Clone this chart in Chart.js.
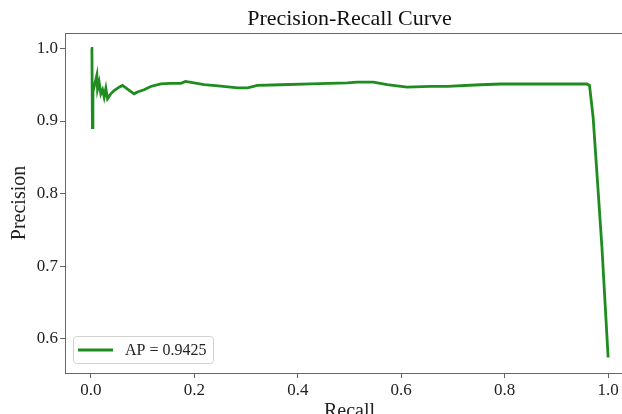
<!DOCTYPE html>
<html>
<head>
<meta charset="utf-8">
<script src="https://cdn.jsdelivr.net/npm/chart.js@4.4.1/dist/chart.umd.min.js"></script>
<style>
	html, body { margin: 0; padding: 0; background: #fff; overflow: hidden; }
	#wrap { width: 622px; height: 414px; overflow: hidden; position: relative; }
	canvas { display: block; }
</style>
</head>
<body>
<div id="wrap"><canvas id="prChart" width="700" height="432"></canvas></div>
<script>
// values
const recall = [0, 0.002, 0.003, 0.004, 0.0116, 0.0129, 0.016, 0.0193, 0.0226, 0.0257,
	0.029, 0.0322, 0.0386, 0.045, 0.0546, 0.0612, 0.0708, 0.0836, 0.09, 0.1029,
	0.1158, 0.135, 0.154, 0.174, 0.183, 0.219, 0.251, 0.284, 0.303, 0.322,
	0.367, 0.425, 0.496, 0.515, 0.546, 0.573, 0.611, 0.656, 0.689, 0.753,
	0.792, 0.882, 0.959, 0.964, 0.971, 0.981, 0.988, 0.994, 1.0];
const precision = [1.0, 1.0, 0.891, 0.94, 0.963, 0.944, 0.9535, 0.9375, 0.943, 0.933,
	0.945, 0.9306, 0.9375, 0.942, 0.9466, 0.949, 0.944, 0.9375, 0.94, 0.943,
	0.9476, 0.9513, 0.952, 0.952, 0.9545, 0.95, 0.948, 0.9458, 0.9458, 0.949,
	0.95, 0.9513, 0.9526, 0.9535, 0.9535, 0.9503, 0.9466, 0.9476, 0.9476, 0.95,
	0.951, 0.951, 0.951, 0.949, 0.905, 0.80, 0.726, 0.65, 0.574];
const xTicks = [0, 0.2, 0.4, 0.6, 0.8, 1.0];
const yTicks = [0.6, 0.7, 0.8, 0.9, 1.0];
const seriesLabel = "AP = 0.9425";

const serif = "'Liberation Serif', 'DejaVu Serif', serif";
const lineColor = "#1f8c1f";
const spine = "#666";

const points = recall.map((r, i) => ({ x: r, y: precision[i] }));

// legend box in the lower left corner of the plot
const legendInside = {
	id: "legendInside",
	afterDraw(chart) {
		const ctx = chart.ctx, area = chart.chartArea;
		const x = area.left + 8, w = 140, h = 27, y = area.bottom - 10 - h;
		ctx.save();
		ctx.fillStyle = "rgba(255,255,255,0.8)";
		ctx.strokeStyle = "#d0d0d0";
		ctx.lineWidth = 1;
		ctx.beginPath();
		ctx.roundRect(x + 0.5, y + 0.5, w, h, 3);
		ctx.fill();
		ctx.stroke();
		ctx.strokeStyle = lineColor;
		ctx.lineWidth = 2.8;
		ctx.beginPath();
		ctx.moveTo(x + 5, y + h / 2 + 0.5);
		ctx.lineTo(x + 40, y + h / 2 + 0.5);
		ctx.stroke();
		ctx.fillStyle = "#222";
		ctx.font = "16px " + serif;
		ctx.textBaseline = "middle";
		ctx.fillText(seriesLabel, x + 52, y + h / 2 + 1);
		ctx.restore();
	}
};

new Chart("prChart", {
	type: "line",
	data: {
		datasets: [{
			label: seriesLabel,
			data: points,
			borderColor: lineColor,
			backgroundColor: lineColor,
			borderWidth: 2.8,
			pointRadius: 0,
			tension: 0,
			fill: false,
		}],
	},
	options: {
		responsive: false,
		animation: false,
		layout: { padding: { left: 0, right: 66, top: 0, bottom: 0 } },
		plugins: {
			legend: { display: false },
			tooltip: { enabled: false },
		},
		scales: {
			x: {
				type: "linear",
				min: -0.05,
				max: 1.05,
				afterBuildTicks: (scale) => { scale.ticks = xTicks.map((v) => ({ value: v })); },
				afterFit: (scale) => { scale.height = 59; },
				ticks: {
					callback: (v) => v.toFixed(1),
					color: "#222",
					font: { family: serif, size: 17 },
					padding: 2,
					maxRotation: 0,
				},
				grid: { drawOnChartArea: false, drawTicks: true, tickLength: 5, color: spine },
				border: { display: true, color: spine },
				title: { display: true, text: "Recall", color: "#222", font: { family: serif, size: 20 }, padding: { top: 0, bottom: 8 } },
			},
			x2: {
				type: "linear",
				position: "top",
				min: -0.05,
				max: 1.05,
				afterFit: (scale) => { scale.height = 33; },
				ticks: { display: false },
				grid: { drawOnChartArea: false, drawTicks: false, color: spine },
				border: { display: true, color: spine },
				title: { display: true, text: "Precision-Recall Curve", color: "#111", font: { family: serif, size: 22 }, padding: { top: 6, bottom: 0 } },
			},
			y: {
				type: "linear",
				min: 0.5527,
				max: 1.0213,
				afterBuildTicks: (scale) => { scale.ticks = yTicks.map((v) => ({ value: v })); },
				afterFit: (scale) => { scale.width = 65; },
				ticks: {
					callback: (v) => v.toFixed(1),
					color: "#222",
					font: { family: serif, size: 17 },
					padding: 2,
				},
				grid: { drawOnChartArea: false, drawTicks: true, tickLength: 5, color: spine },
				border: { display: true, color: spine },
				title: { display: true, text: "Precision", color: "#222", font: { family: serif, size: 20 }, padding: { top: 8, bottom: 0 } },
			},
		},
	},
	plugins: [legendInside],
});
</script>
</body>
</html>
